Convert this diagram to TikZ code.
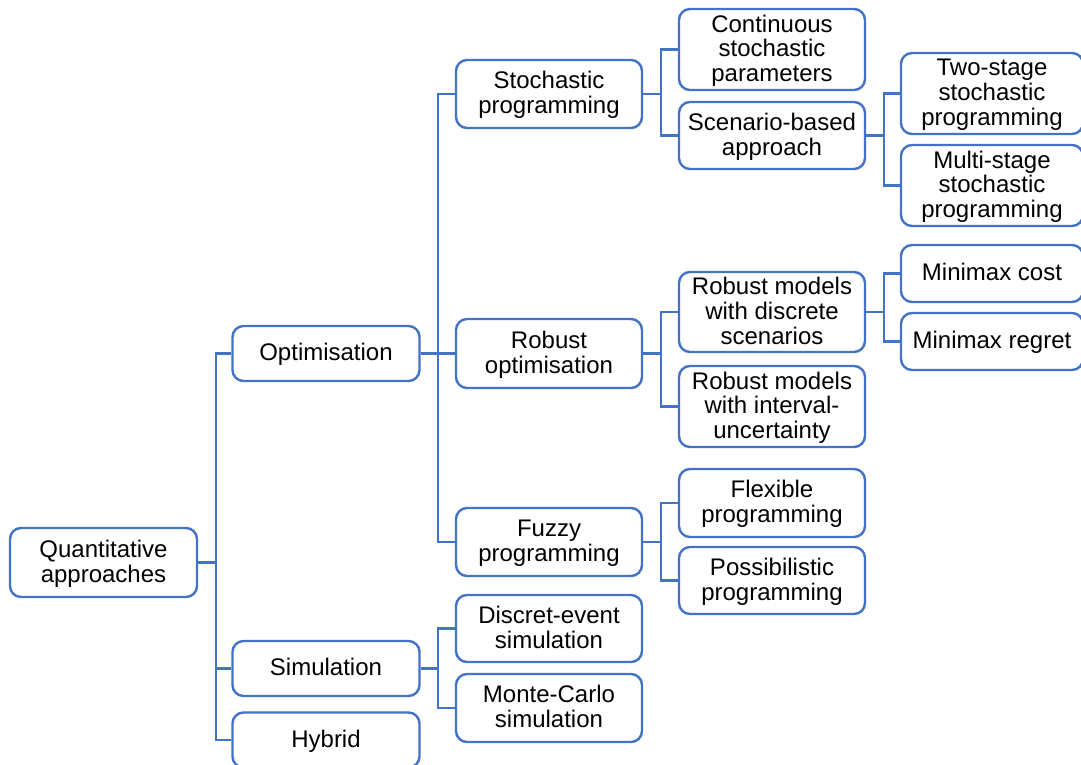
\documentclass[tikz,border=0pt]{standalone}
\usepackage{fontspec}
\setmainfont{Liberation Sans}
\definecolor{linkblue}{HTML}{4472C4}
% centred lines on a fixed baseline grid, with a little extra room on top
\newcommand\celltext[1]{\raisebox{0pt}[\dimexpr\height+4.6pt\relax][\depth]{\begin{tabular}{@{}c@{}}#1\end{tabular}}}
\begin{document}
\begin{tikzpicture}[x=1pt,y=-1pt,
  box/.style={draw=linkblue, line width=2.4pt, rounded corners=11pt, fill=white,
    inner sep=0pt, font=\fontsize{24}{24.5}\selectfont},
  lvla/.style={box, minimum width=187pt},
  lvlb/.style={box, minimum width=186pt},
  lvlc/.style={box, minimum width=182pt},
  link/.style={draw=linkblue, line width=2.4pt}]
\useasboundingbox (0,0) rectangle (1081,765);

% root
\node[lvla, minimum height=69pt] (qa) at (103.5,562.5) {\celltext{Quantitative\\approaches}};

% first level
\node[lvla, minimum height=55pt] (opt) at (326,353.5) {\celltext{Optimisation}};
\node[lvla, minimum height=55pt] (sim) at (326,668.5) {\celltext{Simulation}};
\node[lvla, minimum height=55pt] (hyb) at (326,740) {\celltext{Hybrid}};

% second level
\node[lvlb, minimum height=68pt] (sp) at (549,94) {\celltext{Stochastic\\programming}};
\node[lvlb, minimum height=69pt] (ro) at (549,353.5) {\celltext{Robust\\optimisation}};
\node[lvlb, minimum height=68pt] (fp) at (549,542) {\celltext{Fuzzy\\programming}};
\node[lvlb, minimum height=67pt] (de) at (549,628.5) {\celltext{Discret-event\\simulation}};
\node[lvlb, minimum height=68pt] (mcs) at (549,708) {\celltext{Monte-Carlo\\simulation}};

% third level
\node[lvlb, minimum height=81pt] (csp) at (772,49.5) {\celltext{Continuous\\stochastic\\parameters}};
\node[lvlb, minimum height=67pt] (sba) at (772,135.5) {\celltext{Scenario-based\\approach}};
\node[lvlb, minimum height=80pt] (rmd) at (772,312) {\celltext{Robust models\\with discrete\\scenarios}};
\node[lvlb, minimum height=81pt] (rmi) at (772,406.5) {\celltext{Robust models\\with interval-\\uncertainty}};
\node[lvlb, minimum height=68pt] (flx) at (772,503) {\celltext{Flexible\\programming}};
\node[lvlb, minimum height=67pt] (pos) at (772,580.5) {\celltext{Possibilistic\\programming}};

% fourth level
\node[lvlc, minimum height=81pt] (ts) at (992,93.5) {\celltext{Two-stage\\stochastic\\programming}};
\node[lvlc, minimum height=81pt] (ms) at (992,185.5) {\celltext{Multi-stage\\stochastic\\programming}};
\node[lvlc, minimum height=57pt] (mmc) at (992,273.5) {\celltext{Minimax cost}};
\node[lvlc, minimum height=57pt] (mmr) at (992,341.5) {\celltext{Minimax regret}};

% elbow connectors
\foreach \p/\c in {qa/opt, qa/sim, qa/hyb,
                   opt/sp, opt/ro, opt/fp,
                   sim/de, sim/mcs,
                   sp/csp, sp/sba,
                   ro/rmd, ro/rmi,
                   fp/flx, fp/pos,
                   sba/ts, sba/ms,
                   rmd/mmc, rmd/mmr}
  \draw[link] (\p.east) -- ++(17.5,0) |- (\c.west);
\end{tikzpicture}
\end{document}
